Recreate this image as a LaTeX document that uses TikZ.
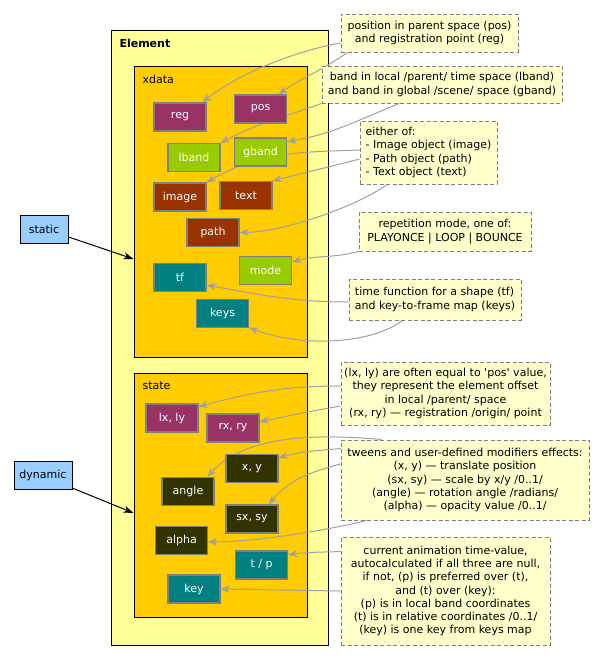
\documentclass[tikz,border=0pt]{standalone}
\usepackage{fontspec}
\newfontfamily\dv{DejaVu Sans}
\usetikzlibrary{arrows.meta}

\definecolor{cElem}{HTML}{FFFF99}
\definecolor{cGroup}{HTML}{FFCC00}
\definecolor{cPlum}{HTML}{993366}
\definecolor{cLime}{HTML}{99CC00}
\definecolor{cRust}{HTML}{993300}
\definecolor{cTeal}{HTML}{008080}
\definecolor{cOlive}{HTML}{333300}
\definecolor{cSky}{HTML}{99CCFF}
\definecolor{cNote}{HTML}{FFFFCC}
\definecolor{cEdge}{HTML}{808080}
\definecolor{cLink}{HTML}{A0A0A0}

\pgfdeclarelayer{back}
\pgfdeclarelayer{front}
\pgfsetlayers{back,main,front}

\tikzset{
  txt/.style={font=\dv\fontsize{11}{13.3}\selectfont},
  container/.style={draw=black, line width=1pt, inner sep=0pt},
  field/.style={txt, draw=cEdge, line width=1.1pt, minimum width=52pt,
    minimum height=28pt, inner sep=0pt, text=white},
  tag/.style={txt, draw=black, line width=1pt, fill=cSky, inner sep=0pt,
    minimum height=28pt},
  note/.style={txt, draw=cEdge, dash pattern=on 4pt off 2.5pt, fill=cNote,
    line width=0.9pt, inner sep=0pt},
  link/.style={draw=cLink, line width=1pt,
    -{Stealth[length=9pt,width=7pt,inset=2.5pt]}},
  feed/.style={draw=black, line width=1pt,
    -{Stealth[length=10pt,width=7pt,inset=3pt]}}
}

\begin{document}
\begin{tikzpicture}[x=1pt,y=-1pt]
\useasboundingbox (0,0) rectangle (603,660);

% containers
\begin{pgfonlayer}{back}
  \fill[white] (0,0) rectangle (603,660);
  \node[container, fill=cElem, minimum width=216.5pt, minimum height=614.5pt]
    (element) at (219.75,337.75) {};
  \node[container, fill=cGroup, minimum width=173pt, minimum height=290pt]
    (xdata) at (220.5,212) {};
  \node[container, fill=cGroup, minimum width=173pt, minimum height=244pt]
    (state) at (220.5,495) {};
  \node[txt, anchor=west, font=\dv\bfseries\fontsize{11}{13}\selectfont]
    (elemlabel) at (116,43) {Element};
  \node[txt, anchor=west] (xdatalabel) at (139,79) {xdata};
  \node[txt, anchor=west] (statelabel) at (139,386) {state};
\end{pgfonlayer}

\begin{pgfonlayer}{front}
  % static part of the element
  \node[field, fill=cPlum] (reg)   at (180,117)   {reg};
  \node[field, fill=cPlum] (pos)   at (260.5,109) {pos};
  \node[field, fill=cLime] (lband) at (194,157.5) {lband};
  \node[field, fill=cLime] (gband) at (260.5,152) {gband};
  \node[field, fill=cRust] (image) at (180,197)   {image};
  \node[field, fill=cRust] (text)  at (246,195.5) {text};
  \node[field, fill=cRust] (path)  at (213,232.5) {path};
  \node[field, fill=cLime] (mode)  at (265.5,270.5) {mode};
  \node[field, fill=cTeal] (tf)    at (180,277.5) {tf};
  \node[field, fill=cTeal] (keys)  at (222.5,313.5) {keys};

  % dynamic part of the element
  \node[field, fill=cPlum]  (lxly)  at (172,418)   {lx, ly};
  \node[field, fill=cPlum]  (rxry)  at (233,428)   {rx, ry};
  \node[field, fill=cOlive] (xy)    at (252,468.5) {x, y};
  \node[field, fill=cOlive] (angle) at (188,491.5) {angle};
  \node[field, fill=cOlive] (sxsy)  at (252,519)   {sx, sy};
  \node[field, fill=cOlive] (alpha) at (181.5,540.5) {alpha};
  \node[field, fill=cTeal]  (tp)    at (261.5,565) {t / p};
  \node[field, fill=cTeal]  (key)   at (194,589)   {key};

  % side tags
  \node[tag, minimum width=48pt] (static)  at (44,229) {static};
  \node[tag, minimum width=58pt] (dynamic) at (43,475) {dynamic};

  % notes
  \node[note, minimum width=177pt, minimum height=38pt, align=center]
    (n1) at (429.5,33) {position in parent space (pos)\\and registration point (reg)};
  \node[note, minimum width=240pt, minimum height=37pt, align=center]
    (n2) at (442,84.5) {band in local /parent/ time space (lband)\\and band in global /scene/ space (gband)};
  \node[note, minimum width=137pt, minimum height=63pt, align=left]
    (n3) at (428.5,152.5) {either of:\\- Image object (image)\\- Path object (path)\\- Text object (text)};
  \node[note, minimum width=172pt, minimum height=39pt, align=center]
    (n4) at (445,231.5) {repetition mode, one of:\\PLAYONCE | LOOP | BOUNCE};
  \node[note, minimum width=172pt, minimum height=41pt, align=left]
    (n5) at (435,299.5) {time function for a shape (tf)\\and key-to-frame map (keys)};
  \node[note, minimum width=209pt, minimum height=63pt, align=center]
    (n6) at (445.5,393.5) {(lx, ly) are often equal to 'pos' value,\\they represent the element offset\\in local /parent/ space\\(rx, ry) — registration /origin/ point};
  \node[note, minimum width=248pt, minimum height=80pt, align=center]
    (n7) at (465,480) {tweens and user-defined modifiers effects:\\(x, y) — translate position\\(sx, sy) — scale by x/y /0..1/\\(angle) — rotation angle /radians/\\(alpha) — opacity value /0..1/};
  \node[note, minimum width=209pt, minimum height=108pt, align=center]
    (n8) at (445.5,591) {current animation time-value,\\autocalculated if all three are null,\\if not, (p) is preferred over (t),\\and (t) over (key):\\(p) is in local band coordinates\\(t) is in relative coordinates /0..1/\\(key) is one key from keys map};
\end{pgfonlayer}

% tags into the groups
\draw[feed] (static.-18) -- ([yshift=-47pt]xdata.west);
\draw[feed] (dynamic.-24) -- ([yshift=-18pt]state.west);

% notes to static fields
\draw[link] ([yshift=-10pt]n1.west) .. controls (300,50) and (240,72) .. (reg.33);
\draw[link] ([xshift=7pt]n1.south west) to[out=215,in=35] (pos.39);
\draw[link] (n2.south west) to[out=200,in=28] (lband.north east);
\draw[link] ([xshift=78pt]n2.south west) to[out=202,in=10] (gband.21);
\draw[link] ([yshift=2.5pt]n3.west) to[out=182,in=30] (image.north east);
\draw[link] ([yshift=-6.5pt]n3.west) to[out=195,in=15] (text.north east);
\draw[link] ([xshift=28pt]n3.south west) .. controls (350,210) and (280,232) .. (path.east);
\draw[link] (n4.south west) to[out=195,in=15] (mode.18);
\draw[link] ([yshift=-2.5pt]n5.west) to[out=180,in=-10] (tf.-16);
\draw[link] ([xshift=54pt]n5.south west) .. controls (370,345) and (300,347) .. (keys.-28);

% notes to dynamic fields
\draw[link] ([yshift=7.5pt]n6.west) to[out=180,in=15] (lxly.23);
\draw[link] ([yshift=-12.5pt]n6.west) to[out=190,in=12] (rxry.13);
\draw[link] ([xshift=41pt]n7.north west) .. controls (300,432) and (240,440) .. (angle.37);
\draw[link] ([yshift=-9pt]n7.north west) to[out=185,in=15] (xy.22);
\draw[link] ([yshift=16pt]n7.west) to[out=195,in=50] (sxsy.41);
\draw[link] ([xshift=26pt]n7.south west) .. controls (320,532) and (250,542) .. (alpha.-3);
\draw[link] ([yshift=-15pt]n8.north west) to[out=182,in=8] (tp.21);
\draw[link] (n8.west) -- (key.east);
\end{tikzpicture}
\end{document}
